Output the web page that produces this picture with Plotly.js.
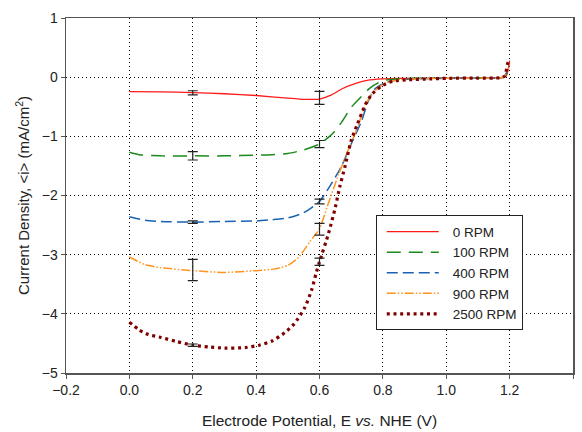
<!DOCTYPE html>
<html>
<head>
<meta charset="utf-8">
<script src="https://cdn.plot.ly/plotly-3.0.1.min.js"></script>
<style>html,body{margin:0;padding:0;background:#fff}#chart{width:582px;height:432px}</style>
</head>
<body>
<div id="chart"></div>
<script>
// Series names
const seriesNames = ["0 RPM", "100 RPM", "400 RPM", "900 RPM", "2500 RPM"];

// 0 RPM
const x0 = [0, 0.1, 0.2, 0.3, 0.4, 0.5, 0.55, 0.6, 0.638, 0.67, 0.712, 0.754, 0.8, 0.85, 0.9, 1.0, 1.1, 1.17, 1.19, 1.2];
const y0 = [-0.245, -0.25, -0.26, -0.28, -0.31, -0.355, -0.375, -0.37, -0.30, -0.20, -0.11, -0.05, -0.03, -0.02, -0.02, -0.02, -0.015, -0.01, 0.03, 0.28];

// 100 RPM
const x100 = [0, 0.03, 0.1, 0.2, 0.3, 0.4, 0.45, 0.5, 0.55, 0.6, 0.64, 0.67, 0.7, 0.73, 0.76, 0.8, 0.85, 0.9, 1.0, 1.1, 1.18, 1.2];
const y100 = [-1.27, -1.31, -1.33, -1.33, -1.33, -1.32, -1.31, -1.29, -1.23, -1.13, -0.96, -0.76, -0.51, -0.34, -0.18, -0.06, -0.03, -0.02, -0.02, -0.015, 0.0, 0.15];

// 400 RPM
const x400 = [0, 0.05, 0.1, 0.2, 0.3, 0.4, 0.45, 0.5, 0.55, 0.6, 0.64, 0.67, 0.7, 0.733, 0.754, 0.775, 0.81, 0.85, 0.9, 1.0, 1.1, 1.18, 1.2];
const y400 = [-2.36, -2.42, -2.44, -2.45, -2.44, -2.43, -2.41, -2.38, -2.29, -2.1, -1.78, -1.5, -1.13, -0.74, -0.40, -0.2, -0.09, -0.045, -0.03, -0.02, -0.015, 0.0, 0.2];

// 900 RPM
const x900 = [0, 0.05, 0.1, 0.2, 0.3, 0.4, 0.46, 0.5, 0.533, 0.57, 0.6, 0.63, 0.66, 0.69, 0.72, 0.745, 0.775, 0.81, 0.85, 0.9, 1.0, 1.1, 1.18, 1.2];
const y900 = [-3.04, -3.17, -3.22, -3.27, -3.3, -3.27, -3.24, -3.18, -3.05, -2.78, -2.56, -2.1, -1.65, -1.24, -0.85, -0.46, -0.23, -0.09, -0.045, -0.03, -0.02, -0.015, 0.0, 0.2];

// 2500 RPM
const x2500 = [0, 0.03, 0.06, 0.1, 0.15, 0.2, 0.25, 0.3, 0.365, 0.41, 0.45, 0.49, 0.52, 0.554, 0.575, 0.59, 0.6, 0.628, 0.65, 0.664, 0.68, 0.7, 0.72, 0.745, 0.765, 0.796, 0.83, 0.88, 0.95, 1.0, 1.1, 1.17, 1.185, 1.193, 1.2];
const y2500 = [-4.14, -4.27, -4.35, -4.4, -4.47, -4.53, -4.56, -4.58, -4.57, -4.53, -4.46, -4.32, -4.17, -3.89, -3.6, -3.3, -3.12, -2.65, -2.2, -1.85, -1.52, -1.07, -0.79, -0.46, -0.29, -0.15, -0.07, -0.045, -0.03, -0.02, -0.015, -0.01, 0.02, 0.22, 0.3];

// Error bars (at E = 0.2 and 0.6 V)
const errX = [0.2, 0.6];
const errY0 = [-0.265, -0.35], errE0 = [0.035, 0.11];
const errY100 = [-1.33, -1.13], errE100 = [0.07, 0.06];
const errY400 = [-2.45, -2.1], errE400 = [0.02, 0.04];
const errY900 = [-3.26, -2.57], errE900 = [0.18, 0.1];
const errY2500 = [-4.53, -3.12], errE2500 = [0.02, 0.06];

// Axis ticks
const xTicks = [-0.2, 0.0, 0.2, 0.4, 0.6, 0.8, 1.0, 1.2, 1.4];
const yTicks = [1, 0, -1, -2, -3, -4, -5];

const curves = [
  {x: x0, y: y0, color: "#ff1a1a", dash: "solid", width: 1.3},
  {x: x100, y: y100, color: "#1a8a1a", dash: "14px,8px", width: 1.5},
  {x: x400, y: y400, color: "#1a62b0", dash: "11px,5px", width: 1.5},
  {x: x900, y: y900, color: "#ff9420", dash: "9px,2px,1.5px,2px,1.5px,2px", width: 1.5},
  {x: x2500, y: y2500, color: "#800000", dash: "3px,3.7px", width: 3.2}
];
const errs = [[errY0, errE0], [errY100, errE100], [errY400, errE400], [errY900, errE900], [errY2500, errE2500]];

const traces = [];
curves.forEach((c, i) => {
  traces.push({
    x: c.x, y: c.y, type: "scatter", mode: "lines", name: seriesNames[i],
    line: {color: c.color, dash: c.dash, width: c.width, shape: "spline", smoothing: 0.6}
  });
});
errs.forEach((e) => {
  traces.push({
    x: errX, y: e[0], type: "scatter", mode: "markers", showlegend: false, hoverinfo: "skip",
    marker: {size: 1, opacity: 0},
    error_y: {type: "data", array: e[1], visible: true, color: "#222", thickness: 1.2, width: 5}
  });
});

const layout = {
  width: 582, height: 432,
  margin: {l: 66, r: 9, t: 18, b: 59},
  paper_bgcolor: "#fff", plot_bgcolor: "#fff",
  font: {family: "Liberation Sans, Arial, sans-serif", size: 14, color: "#222"},
  showlegend: true,
  legend: {
    x: 0.611, y: 0.444, xanchor: "left", yanchor: "top",
    bgcolor: "#fff", bordercolor: "#222", borderwidth: 1,
    font: {size: 13.5, color: "#222"}, tracegroupgap: 0, itemwidth: 66
  },
  xaxis: {
    range: [-0.2, 1.4], tickvals: xTicks, tickformat: ".1f",
    tickfont: {size: 14, color: "#222"},
    showgrid: true, gridcolor: "#000", griddash: "1px,3px", gridwidth: 1,
    zeroline: false, showline: true, linecolor: "#555", linewidth: 1.5, mirror: true,
    ticks: "outside", ticklen: 4, tickcolor: "#555",
    title: {text: "Electrode Potential, E <i>vs.</i> NHE (V)", font: {size: 15.5, color: "#222"}, standoff: 18}
  },
  yaxis: {
    range: [-5, 1], tickvals: yTicks,
    tickfont: {size: 14, color: "#222"},
    showgrid: true, gridcolor: "#000", griddash: "1px,3px", gridwidth: 1,
    zeroline: false, showline: true, linecolor: "#555", linewidth: 1.5, mirror: true,
    ticks: "outside", ticklen: 4, tickcolor: "#555",
    title: {text: "Current Density, &lt;i&gt; (mA/cm<sup>2</sup>)", font: {size: 15, color: "#222"}, standoff: 8}
  }
};

Plotly.newPlot("chart", traces, layout, {displayModeBar: false, staticPlot: true}).then(function (gd) {
  // lengthen legend line samples to match the reference
  gd.querySelectorAll(".legend .legendlines path").forEach(function (p) {
    p.setAttribute("d", "M10,0h52");
  });
});
</script>
</body>
</html>
